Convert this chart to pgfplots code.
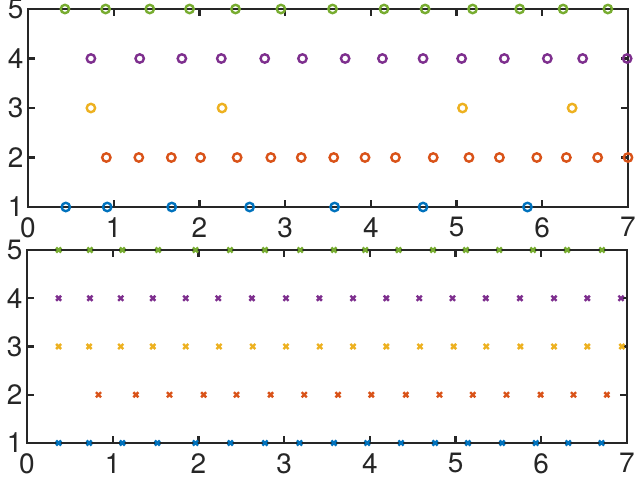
\documentclass[border=0pt]{standalone}
\usepackage{pgfplots}
\pgfplotsset{compat=1.18}
\usepackage{fontspec}
\setmainfont{TeX Gyre Heros}
\definecolor{mblue}{rgb}{0,0.447,0.741}
\definecolor{morange}{rgb}{0.85,0.325,0.098}
\definecolor{myellow}{rgb}{0.929,0.694,0.125}
\definecolor{mpurple}{rgb}{0.494,0.184,0.556}
\definecolor{mgreen}{rgb}{0.466,0.674,0.188}
\pgfplotsset{
  myaxis/.style={
    scale only axis, width=600pt,
    xmin=0, xmax=7, ymin=1, ymax=5,
    xtick={0,...,7}, ytick={1,...,5},
    tick align=inside, major tick length=7pt,
    axis line style={line width=2.2pt, color=black!85},
    every tick/.style={line width=2.2pt, color=black!85},
    tick label style={font=\fontsize{28}{30}\selectfont, color=black!85},
    /pgf/number format/assume math mode=true,
    yticklabel style={xshift=-1pt},
    xticklabel style={yshift=-7pt},
    clip=false,
  },
}
\begin{document}
\begin{tikzpicture}
\useasboundingbox (0,0) rectangle (635pt,-482pt);
\begin{axis}[myaxis, at={(28pt,-9pt)}, anchor=north west, height=198pt]
\addplot[only marks, mark=o, mark size=4.2pt, mark options={line width=2.4pt}, draw=mblue] coordinates {(0.441,1)(0.924,1)(1.677,1)(2.586,1)(3.577,1)(4.609,1)(5.827,1)};
\addplot[only marks, mark=o, mark size=4.2pt, mark options={line width=2.4pt}, draw=morange] coordinates {(0.914,2)(1.293,2)(1.672,2)(2.013,2)(2.440,2)(2.833,2)(3.188,2)(3.567,2)(3.932,2)(4.287,2)(4.728,2)(5.145,2)(5.500,2)(5.936,2)(6.281,2)(6.646,2)(7.0,2)};
\addplot[only marks, mark=o, mark size=4.2pt, mark options={line width=2.4pt}, draw=myellow] coordinates {(0.734,3)(2.264,3)(5.069,3)(6.348,3)};
\addplot[only marks, mark=o, mark size=4.2pt, mark options={line width=2.4pt}, draw=mpurple] coordinates {(0.734,4)(1.303,4)(1.795,4)(2.255,4)(2.762,4)(3.202,4)(3.700,4)(4.135,4)(4.609,4)(5.059,4)(5.557,4)(6.059,4)(6.471,4)(6.99,4)};
\addplot[only marks, mark=o, mark size=4.2pt, mark options={line width=2.4pt}, draw=mgreen] coordinates {(0.431,5)(0.905,5)(1.421,5)(1.885,5)(2.421,5)(2.951,5)(3.553,5)(4.154,5)(4.633,5)(5.187,5)(5.737,5)(6.243,5)(6.765,5)};
\end{axis}
\begin{axis}[myaxis, at={(27pt,-250pt)}, anchor=north west, height=193pt]
\addplot[only marks, mark=x, mark size=3.6pt, mark options={line width=2.4pt}, draw=mblue] coordinates {(0.369,1)(0.725,1)(1.113,1)(1.521,1)(1.966,1)(2.373,1)(2.776,1)(3.179,1)(3.581,1)(3.970,1)(4.363,1)(4.761,1)(5.144,1)(5.543,1)(5.936,1)(6.315,1)(6.703,1)};
\addplot[only marks, mark=x, mark size=3.6pt, mark options={line width=2.4pt}, draw=morange] coordinates {(0.834,2)(1.270,2)(1.663,2)(2.061,2)(2.444,2)(2.842,2)(3.235,2)(3.629,2)(4.017,2)(4.420,2)(4.813,2)(5.201,2)(5.594,2)(5.992,2)(6.376,2)(6.765,2)};
\addplot[only marks, mark=x, mark size=3.6pt, mark options={line width=2.4pt}, draw=myellow] coordinates {(0.369,3)(0.725,3)(1.094,3)(1.468,3)(1.852,3)(2.240,3)(2.634,3)(3.022,3)(3.415,3)(3.804,3)(4.192,3)(4.585,3)(4.978,3)(5.358,3)(5.756,3)(6.149,3)(6.537,3)(6.940,3)};
\addplot[only marks, mark=x, mark size=3.6pt, mark options={line width=2.4pt}, draw=mpurple] coordinates {(0.369,4)(0.734,4)(1.094,4)(1.468,4)(1.852,4)(2.231,4)(2.624,4)(3.022,4)(3.411,4)(3.804,4)(4.192,4)(4.576,4)(4.964,4)(5.353,4)(5.751,4)(6.149,4)(6.537,4)(6.930,4)};
\addplot[only marks, mark=x, mark size=3.6pt, mark options={line width=2.4pt}, draw=mgreen] coordinates {(0.369,5)(0.734,5)(1.113,5)(1.530,5)(1.966,5)(2.369,5)(2.776,5)(3.188,5)(3.581,5)(3.946,5)(4.335,5)(4.737,5)(5.121,5)(5.510,5)(5.903,5)(6.301,5)(6.708,5)};
\end{axis}
\end{tikzpicture}
\end{document}
